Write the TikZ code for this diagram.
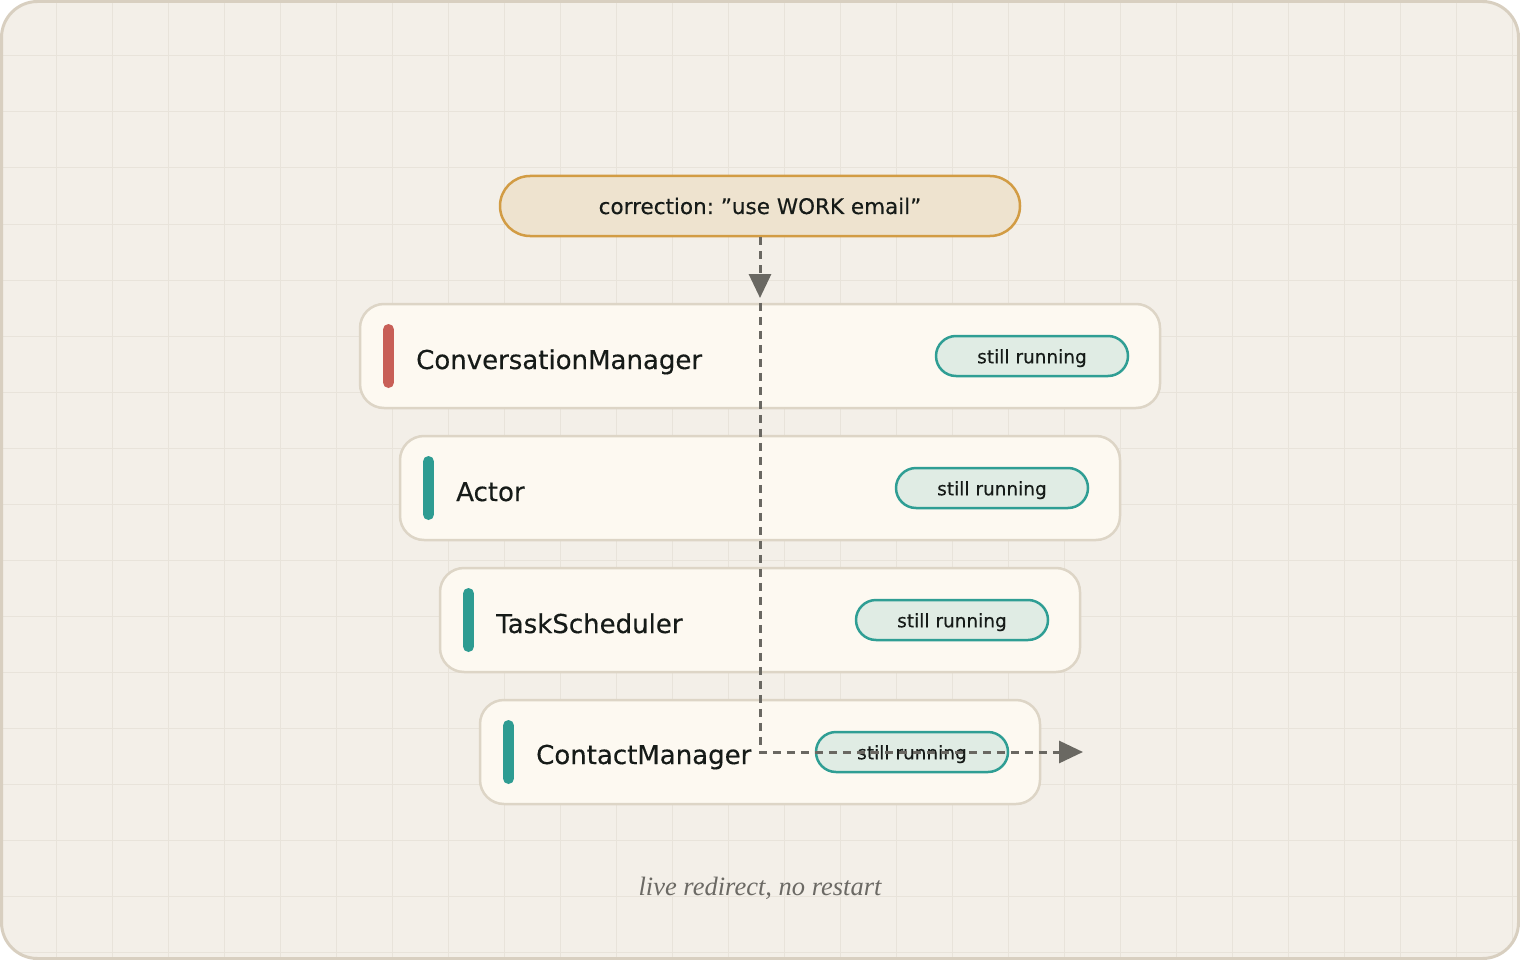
\documentclass[tikz,border=0pt]{standalone}
\usepackage{fontspec}
\setmainfont[FakeBold=0.35]{DejaVu Sans}
\newfontfamily\capfont{Liberation Serif}
\usetikzlibrary{arrows.meta}
\definecolor{bgc}{HTML}{F3EFE8}
\definecolor{framec}{HTML}{D8CFC0}
\definecolor{gridc}{HTML}{E8E3DA}
\definecolor{boxfill}{HTML}{FDF9F1}
\definecolor{boxline}{HTML}{DDD5C6}
\definecolor{pillfill}{HTML}{E0ECE4}
\definecolor{pillline}{HTML}{2F9E94}
\definecolor{txt}{HTML}{161B18}
\definecolor{redbar}{HTML}{C85F57}
\definecolor{tealbar}{HTML}{2E9C92}
\definecolor{corrfill}{HTML}{EEE3CF}
\definecolor{corrline}{HTML}{D29C44}
\definecolor{arrc}{HTML}{6A6862}
\definecolor{capc}{HTML}{6B6964}
\tikzset{
  layerbox/.style={draw=boxline, line width=2.5pt, fill=boxfill, rounded corners=24pt, minimum height=104pt, inner sep=0pt},
  pill/.style={draw=pillline, line width=2.5pt, fill=pillfill, rounded corners=20pt, minimum width=192pt, minimum height=40pt, inner sep=0pt, text=txt, font=\fontsize{18.5}{20}\selectfont, text height=14.6pt, text depth=0pt},
  lbl/.style={anchor=base west, text=txt, font=\fontsize{26}{30}\selectfont, inner sep=0pt},
  bar/.style={line width=11pt, line cap=round},
  flow/.style={draw=arrc, line width=3pt, dash pattern=on 8pt off 6pt},
  tip/.style={-{Triangle[length=24pt,width=22pt]}}
}
\begin{document}
\frenchspacing
\begin{tikzpicture}[x=1pt,y=-1pt]
\useasboundingbox (0,0) rectangle (1520,960);
\fill[bgc, rounded corners=36pt] (1.5,1.5) rectangle (1518.5,958.5);
\begin{scope}
\clip[rounded corners=36pt] (1.5,1.5) rectangle (1518.5,958.5);
\foreach \i in {1,...,27} \draw[gridc, line width=1pt] (56*\i,0) -- (56*\i,960);
\foreach \j in {1,...,17} \draw[gridc, line width=1pt] (0,56*\j) -- (1520,56*\j);
\end{scope}
\draw[framec, line width=3pt, rounded corners=36pt] (1.5,1.5) rectangle (1518.5,958.5);

% correction pill
\node[draw=corrline, line width=2.5pt, fill=corrfill, rounded corners=30pt, minimum width=520pt, minimum height=60pt, inner sep=0pt, text=txt, font=\fontsize{21.5}{24}\selectfont, text height=16pt, text depth=0pt] (corr) at (760,206) {correction: ”use WORK email”};

% layer boxes
\node[layerbox, minimum width=800pt] (cm) at (760,356) {};
\node[layerbox, minimum width=720pt] (ac) at (760,488) {};
\node[layerbox, minimum width=640pt] (ts) at (760,620) {};
\node[layerbox, minimum width=560pt] (ct) at (760,752) {};

\draw[bar, redbar] (388.5,329.5) -- (388.5,382.5);
\draw[bar, tealbar] (428.5,461.5) -- (428.5,514.5);
\draw[bar, tealbar] (468.5,593.5) -- (468.5,646.5);
\draw[bar, tealbar] (508.5,725.5) -- (508.5,778.5);

\node[lbl] (cmt) at (416,369) {ConversationManager};
\node[lbl] (act) at (456,501) {Actor};
\node[lbl] (tst) at (496,633) {TaskScheduler};
\node[lbl] (ctt) at (536,764) {ContactManager};

\node[pill] (p1) at (1032,356) {still running};
\node[pill] (p2) at (992,488) {still running};
\node[pill] (p3) at (952,620) {still running};
\node[pill] (p4) at (912,752) {still running};

% flow
\draw[flow, tip] (corr.south) -- (760,298);
\coordinate (turn) at (760,752);
\coordinate (out) at (1083,752);
\draw[flow, tip] (cm.north) -- (turn) -- (out);

% caption
\node[anchor=base, inner sep=0pt, text=capc, font=\capfont\itshape\fontsize{26.5}{30}\selectfont] (cap) at (760,895) {live redirect, no restart};
\end{tikzpicture}
\end{document}
